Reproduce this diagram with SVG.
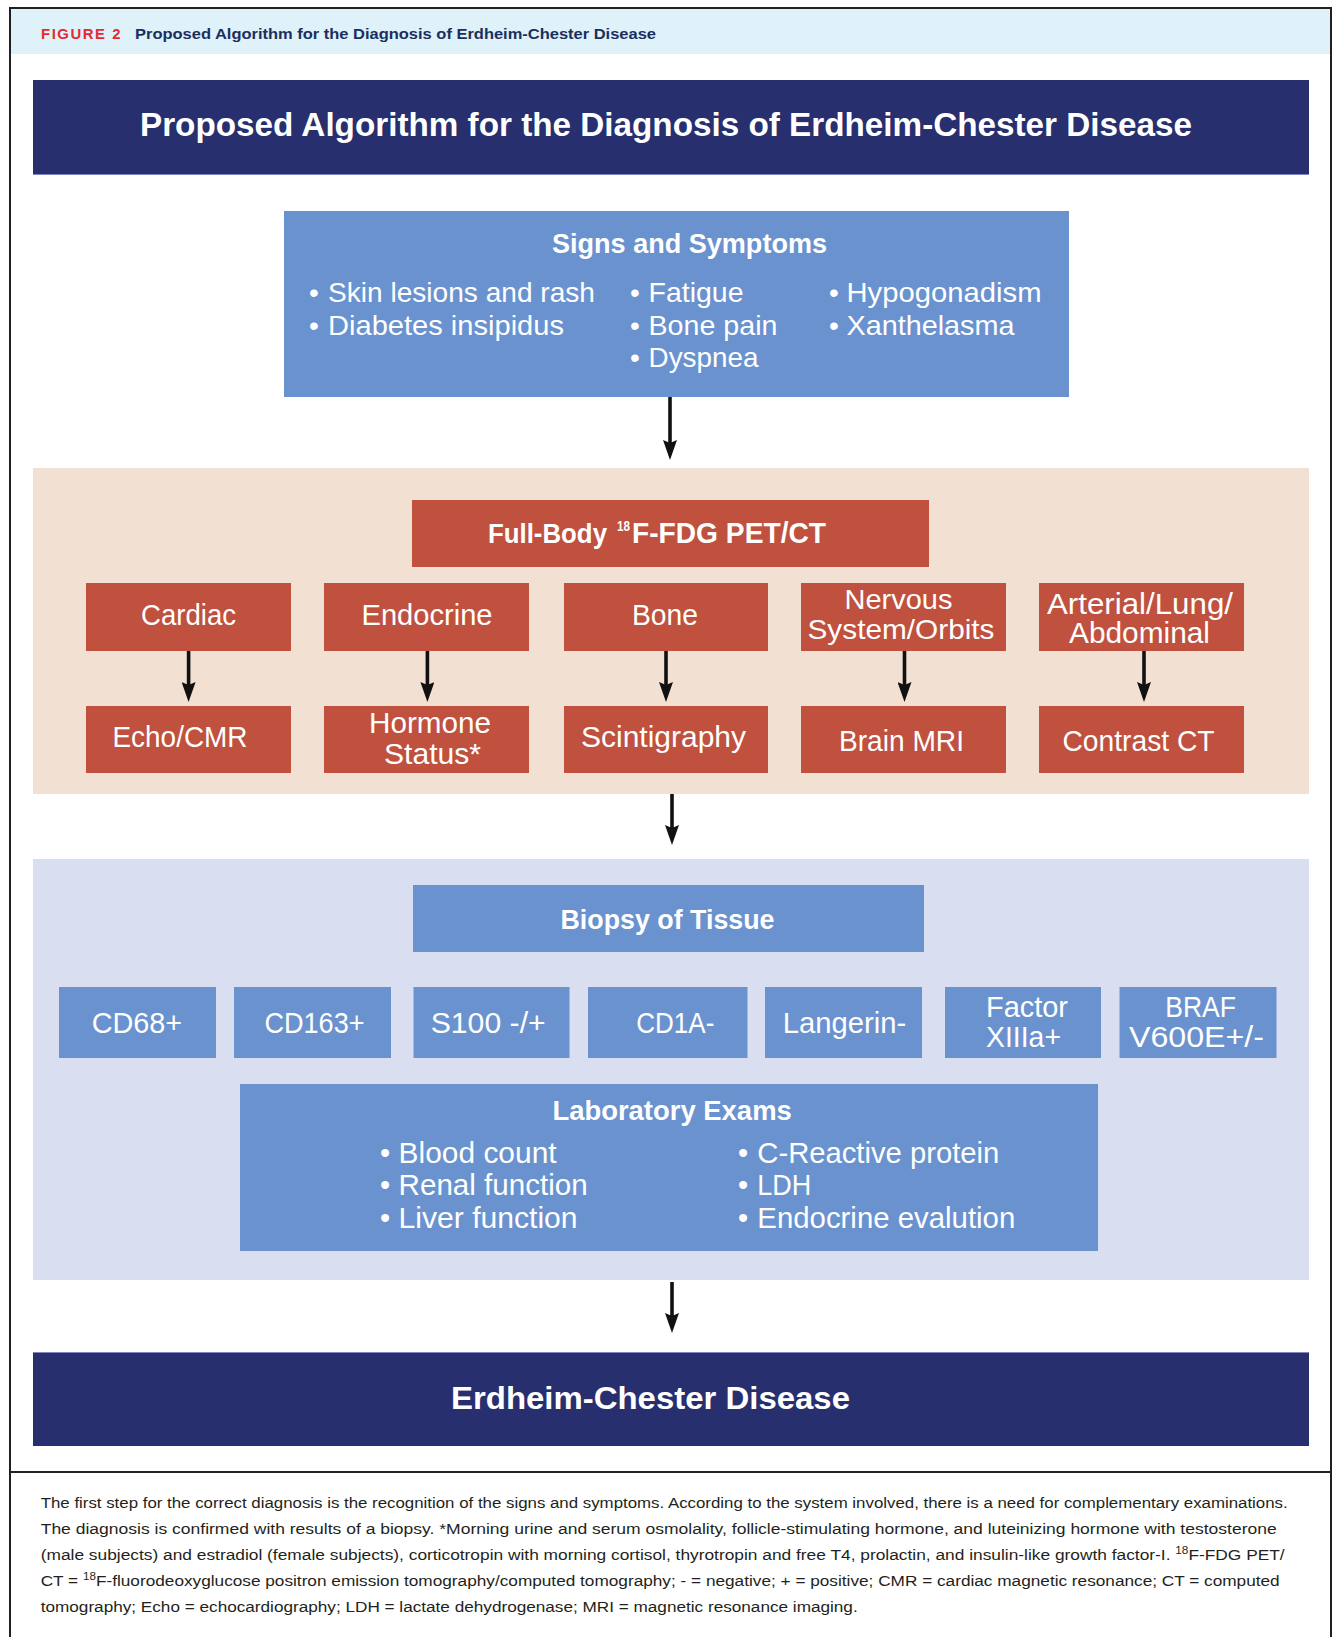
<svg xmlns="http://www.w3.org/2000/svg" width="1335" height="1637" viewBox="0 0 1335 1637">
<defs>
<style>
text{font-family:"Liberation Sans",Arial,sans-serif}
.w{fill:#FFFFFF}
.b{font-weight:bold}
.t29{font-size:29px}
.t28{font-size:28px}
.red{fill:#BF513E}
.blue{fill:#6A92CF}
.cap{font-size:15.5px;fill:#231F20}
.conn line{stroke:#111111;stroke-width:3.6}
</style>
<marker id="ah" viewBox="0 0 20 14" refX="8" refY="7" markerWidth="20" markerHeight="14" markerUnits="userSpaceOnUse" orient="auto">
<path d="M0,0 L20,7 L0,14 L3,7 Z" fill="#111111"/>
</marker>
</defs>
<rect x="0" y="0" width="1335" height="1637" fill="#FFFFFF"/>
<g id="frame">
<rect x="11" y="9" width="1319" height="45" fill="#DFF2FA"/>
<rect x="10" y="8" width="1321" height="1640" fill="none" stroke="#231F20" stroke-width="2"/>
<line x1="10" y1="1472" x2="1331" y2="1472" stroke="#231F20" stroke-width="2"/>
<text x="41" y="39" font-size="14.5" font-weight="bold" fill="#E42A30" textLength="81" lengthAdjust="spacingAndGlyphs" letter-spacing="1.5">FIGURE 2</text>
<text x="135" y="39" font-size="15.5" font-weight="bold" fill="#1B2F5E" textLength="521" lengthAdjust="spacingAndGlyphs">Proposed Algorithm for the Diagnosis of Erdheim-Chester Disease</text>
</g>
<g id="bands">
<rect x="33" y="468" width="1276" height="326" fill="#F2E0D3"/>
<rect x="33" y="859" width="1276" height="421" fill="#D9DFF1"/>
</g>
<g id="title">
<rect x="33" y="80" width="1276" height="95" fill="#272F6F"/>
<line x1="33" y1="174.5" x2="1309" y2="174.5" stroke="#7F87C0" stroke-width="1"/>
<text class="w b" x="140" y="136" font-size="33" textLength="1052" lengthAdjust="spacingAndGlyphs">Proposed Algorithm for the Diagnosis of Erdheim-Chester Disease</text>
</g>
<g id="signs">
<rect class="blue" x="284" y="211" width="785" height="186"/>
<text class="w b t28" x="552" y="253" textLength="275" lengthAdjust="spacingAndGlyphs">Signs and Symptoms</text>
<g class="w t28">
<text x="309" y="302">•</text><text x="328" y="302" textLength="267" lengthAdjust="spacingAndGlyphs">Skin lesions and rash</text>
<text x="309" y="335">•</text><text x="328" y="335" textLength="236" lengthAdjust="spacingAndGlyphs">Diabetes insipidus</text>
<text x="630" y="302">•</text><text x="648.5" y="302" textLength="95" lengthAdjust="spacingAndGlyphs">Fatigue</text>
<text x="630" y="335">•</text><text x="648.5" y="335" textLength="129" lengthAdjust="spacingAndGlyphs">Bone pain</text>
<text x="630" y="367">•</text><text x="648.5" y="367" textLength="110" lengthAdjust="spacingAndGlyphs">Dyspnea</text>
<text x="829" y="302">•</text><text x="846.5" y="302" textLength="195" lengthAdjust="spacingAndGlyphs">Hypogonadism</text>
<text x="829" y="335">•</text><text x="846.5" y="335" textLength="168" lengthAdjust="spacingAndGlyphs">Xanthelasma</text>
</g>
</g>
<g id="pet">
<rect class="red" x="412" y="500" width="517" height="67"/>
<text class="w b" x="488" y="543" font-size="27.5" textLength="119" lengthAdjust="spacingAndGlyphs">Full-Body</text>
<text class="w b" x="617" y="531" font-size="14" textLength="13" lengthAdjust="spacingAndGlyphs">18</text>
<text class="w b" x="632" y="543" font-size="29" textLength="194" lengthAdjust="spacingAndGlyphs">F-FDG PET/CT</text>
</g>
<g id="cardiac"><rect class="red" x="86" y="583" width="205" height="68"/><text class="w t29" x="141" y="625" textLength="95" lengthAdjust="spacingAndGlyphs">Cardiac</text></g>
<g id="endocrine"><rect class="red" x="324" y="583" width="205" height="68"/><text class="w t29" x="361.5" y="625" textLength="131" lengthAdjust="spacingAndGlyphs">Endocrine</text></g>
<g id="bone"><rect class="red" x="564" y="583" width="204" height="68"/><text class="w t29" x="632" y="625" textLength="66" lengthAdjust="spacingAndGlyphs">Bone</text></g>
<g id="nervous"><rect class="red" x="801" y="583" width="205" height="68"/><text class="w t28" x="844.5" y="609" textLength="108" lengthAdjust="spacingAndGlyphs">Nervous</text><text class="w t28" x="807.5" y="638.5" textLength="187" lengthAdjust="spacingAndGlyphs">System/Orbits</text></g>
<g id="arterial"><rect class="red" x="1039" y="583" width="205" height="68"/><text class="w t29" x="1047" y="614" textLength="186" lengthAdjust="spacingAndGlyphs">Arterial/Lung/</text><text class="w t29" x="1069" y="643" textLength="141" lengthAdjust="spacingAndGlyphs">Abdominal</text></g>
<g id="echo"><rect class="red" x="86" y="706" width="205" height="67"/><text class="w t29" x="112.5" y="747" textLength="135" lengthAdjust="spacingAndGlyphs">Echo/CMR</text></g>
<g id="hormone"><rect class="red" x="324" y="706" width="205" height="67"/><text class="w t29" x="369" y="733" textLength="122" lengthAdjust="spacingAndGlyphs">Hormone</text><text class="w t29" x="384" y="764" textLength="97" lengthAdjust="spacingAndGlyphs">Status*</text></g>
<g id="scintigraphy"><rect class="red" x="564" y="706" width="204" height="67"/><text class="w t29" x="581" y="747" textLength="165" lengthAdjust="spacingAndGlyphs">Scintigraphy</text></g>
<g id="brainmri"><rect class="red" x="801" y="706" width="205" height="67"/><text class="w t29" x="839" y="751" textLength="125" lengthAdjust="spacingAndGlyphs">Brain MRI</text></g>
<g id="contrastct"><rect class="red" x="1039" y="706" width="205" height="67"/><text class="w t29" x="1062.5" y="751" textLength="152" lengthAdjust="spacingAndGlyphs">Contrast CT</text></g>
<g id="biopsy"><rect class="blue" x="413" y="885" width="511" height="67"/><text class="w b t28" x="560.5" y="929" textLength="214" lengthAdjust="spacingAndGlyphs">Biopsy of Tissue</text></g>
<g id="cd68"><rect class="blue" x="59" y="987" width="157" height="71"/><text class="w t29" x="91.7" y="1033" textLength="90.5" lengthAdjust="spacingAndGlyphs">CD68+</text></g>
<g id="cd163"><rect class="blue" x="234" y="987" width="157" height="71"/><text class="w t29" x="264.5" y="1033" textLength="100" lengthAdjust="spacingAndGlyphs">CD163+</text></g>
<g id="s100"><rect class="blue" x="413.5" y="987" width="156" height="71"/><text class="w t29" x="430.7" y="1033" textLength="115" lengthAdjust="spacingAndGlyphs">S100 -/+</text></g>
<g id="cd1a"><rect class="blue" x="588" y="987" width="159.5" height="71"/><text class="w t29" x="636.3" y="1033" textLength="78" lengthAdjust="spacingAndGlyphs">CD1A-</text></g>
<g id="langerin"><rect class="blue" x="765" y="987" width="157" height="71"/><text class="w t29" x="782.8" y="1033" textLength="123.4" lengthAdjust="spacingAndGlyphs">Langerin-</text></g>
<g id="factor"><rect class="blue" x="945" y="987" width="156" height="71"/><text class="w t29" x="986" y="1017" textLength="82" lengthAdjust="spacingAndGlyphs">Factor</text><text class="w t29" x="986" y="1047" textLength="75" lengthAdjust="spacingAndGlyphs">XIIIa+</text></g>
<g id="braf"><rect class="blue" x="1119.5" y="987" width="157" height="71"/><text class="w t29" x="1165.3" y="1017" textLength="70.7" lengthAdjust="spacingAndGlyphs">BRAF</text><text class="w t29" x="1129" y="1047" textLength="135" lengthAdjust="spacingAndGlyphs">V600E+/-</text></g>
<g id="lab">
<rect class="blue" x="240" y="1084" width="858" height="167"/>
<text class="w b t28" x="552.4" y="1120" textLength="239.4" lengthAdjust="spacingAndGlyphs">Laboratory Exams</text>
<g class="w t29">
<text x="380" y="1163">•</text><text x="398.6" y="1163" textLength="158" lengthAdjust="spacingAndGlyphs">Blood count</text>
<text x="380" y="1195">•</text><text x="398.6" y="1195" textLength="189" lengthAdjust="spacingAndGlyphs">Renal function</text>
<text x="380" y="1228">•</text><text x="398.6" y="1228" textLength="179" lengthAdjust="spacingAndGlyphs">Liver function</text>
<text x="738" y="1163">•</text><text x="757.3" y="1163" textLength="242" lengthAdjust="spacingAndGlyphs">C-Reactive protein</text>
<text x="738" y="1195">•</text><text x="757.3" y="1195" textLength="54" lengthAdjust="spacingAndGlyphs">LDH</text>
<text x="738" y="1228">•</text><text x="757.3" y="1228" textLength="258" lengthAdjust="spacingAndGlyphs">Endocrine evalution</text>
</g>
</g>
<g id="ecd">
<rect x="33" y="1352" width="1276" height="94" fill="#272F6F"/>
<line x1="33" y1="1352.5" x2="1309" y2="1352.5" stroke="#7F87C0" stroke-width="1"/>
<text class="w b" x="451" y="1409" font-size="32" textLength="399" lengthAdjust="spacingAndGlyphs">Erdheim-Chester Disease</text>
</g>
<g id="connectors" class="conn">
<line x1="670" y1="397" x2="670" y2="448" marker-end="url(#ah)"/>
<line x1="188.6" y1="651" x2="188.6" y2="690" marker-end="url(#ah)"/>
<line x1="427.4" y1="651" x2="427.4" y2="690" marker-end="url(#ah)"/>
<line x1="666" y1="651" x2="666" y2="690" marker-end="url(#ah)"/>
<line x1="904.5" y1="651" x2="904.5" y2="690" marker-end="url(#ah)"/>
<line x1="1144" y1="651" x2="1144" y2="690" marker-end="url(#ah)"/>
<line x1="672" y1="794" x2="672" y2="833" marker-end="url(#ah)"/>
<line x1="672" y1="1282" x2="672" y2="1321" marker-end="url(#ah)"/>
</g>
<g id="caption">
<text class="cap" x="40.7" y="1508" textLength="1247" lengthAdjust="spacingAndGlyphs">The first step for the correct diagnosis is the recognition of the signs and symptoms. According to the system involved, there is a need for complementary examinations.</text>
<text class="cap" x="40.7" y="1534" textLength="1236" lengthAdjust="spacingAndGlyphs">The diagnosis is confirmed with results of a biopsy. *Morning urine and serum osmolality, follicle-stimulating hormone, and luteinizing hormone with testosterone</text>
<text class="cap" x="40.7" y="1560" textLength="1244" lengthAdjust="spacingAndGlyphs">(male subjects) and estradiol (female subjects), corticotropin with morning cortisol, thyrotropin and free T4, prolactin, and insulin-like growth factor-I. <tspan font-size="10.5" dy="-6">18</tspan><tspan dy="6">F-FDG PET/</tspan></text>
<text class="cap" x="40.7" y="1586" textLength="1239" lengthAdjust="spacingAndGlyphs">CT = <tspan font-size="10.5" dy="-6">18</tspan><tspan dy="6">F-fluorodeoxyglucose positron emission tomography/computed tomography; - = negative; + = positive; CMR = cardiac magnetic resonance; CT = computed</tspan></text>
<text class="cap" x="40.7" y="1612" textLength="817" lengthAdjust="spacingAndGlyphs">tomography; Echo = echocardiography; LDH = lactate dehydrogenase; MRI = magnetic resonance imaging.</text>
</g>
</svg>
